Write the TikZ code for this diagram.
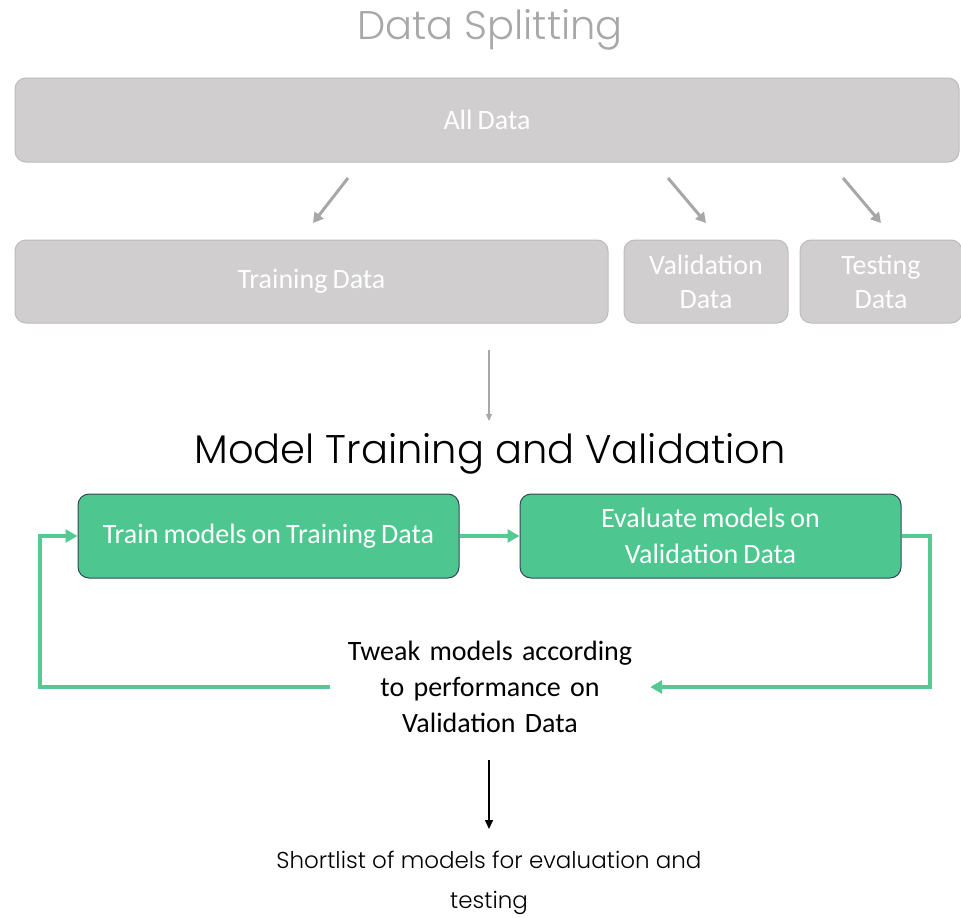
\documentclass[tikz,border=0pt]{standalone}
\usepackage{fontspec}
\setmainfont{Carlito}[WordSpace=0.8]
\newfontfamily\titlefont{Poppins}[UprightFont=*-Light]
\usetikzlibrary{arrows.meta,calc}
\definecolor{boxgray}{HTML}{D0CECF}
\definecolor{boxgrayline}{HTML}{BDBBBC}
\definecolor{arrgray}{HTML}{A8A6A7}
\definecolor{titlegray}{HTML}{A9A7A8}
\definecolor{boxgreen}{HTML}{4EC68F}
\definecolor{boxline}{HTML}{34465A}
\definecolor{loopgreen}{HTML}{55C992}
\tikzset{
  graybox/.style={draw=boxgrayline, line width=1pt, fill=boxgray, rounded corners=11pt,
    text=white, font=\fontsize{28}{34}\selectfont, align=center, inner sep=0pt},
  greenbox/.style={draw=boxline, line width=1pt, fill=boxgreen, rounded corners=11pt,
    text=white, font=\fontsize{28}{36}\selectfont, align=center, inner sep=0pt,
    minimum width=381pt, minimum height=84pt},
  grayarrow/.style={draw=arrgray, line width=3pt, -{Triangle[width=11pt,length=10pt]}},
  thinarrow/.style={draw=arrgray, line width=1.2pt, -{Triangle[width=6pt,length=7pt]}},
  looparrow/.style={draw=loopgreen, line width=4pt, -{Triangle[width=13pt,length=12pt]}},
  bigtitle/.style={font=\titlefont\fontsize{40}{46}\selectfont, inner sep=0pt},
  plaintext/.style={font=\fontsize{28}{36}\selectfont, align=center},
}
\begin{document}
\begin{tikzpicture}[x=1pt,y=-1pt]
\useasboundingbox (0,0) rectangle (961,918);

\node[bigtitle, text=titlegray] (t1) at (490,30) {Data Splitting};

\node[graybox, minimum width=944pt, minimum height=84pt] (all) at (487,120) {All Data};
\node[graybox, minimum width=593pt, minimum height=83pt] (train) at (311.5,281.5) {Training Data};
\node[graybox, minimum width=164pt, minimum height=83pt] (val) at (706,281.5) {Validation\\Data};
\node[graybox, minimum width=162pt, minimum height=83pt] (test) at (881,281.5) {Testing\\Data};

\coordinate (a1s) at (348,178); \coordinate (a1e) at (313,223);
\coordinate (a2s) at (668,178); \coordinate (a2e) at (706,223);
\coordinate (a3s) at (843,178); \coordinate (a3e) at (881,223);
\draw[grayarrow] (a1s) -- (a1e);
\draw[grayarrow] (a2s) -- (a2e);
\draw[grayarrow] (a3s) -- (a3e);

\coordinate (d1s) at (489,350); \coordinate (d1e) at (489,421);
\draw[thinarrow] (d1s) -- (d1e);

\node[bigtitle, text=black] (t2) at (490,454) {Model Training and Validation};

\node[greenbox] (trm) at (268.5,536) {Train models on Training Data};
\node[greenbox] (evm) at (710.5,536) {Evaluate models on\\Validation Data};
\draw[looparrow] (trm) -- (evm);

\node[plaintext, text width=296pt, inner sep=12pt] (tweak) at (490,687)
  {Tweak models according\\to performance on\\Validation Data};

\coordinate (rc) at (930,536);
\coordinate (lc) at (40,536);
\draw[looparrow] (evm.east) -- (rc) |- (tweak.east);
\draw[looparrow] (tweak.west) -| (lc) -- (trm.west);

\coordinate (d2s) at (489,760); \coordinate (d2e) at (489,829);
\draw[line width=1.5pt, -{Triangle[width=8pt,length=9pt]}] (d2s) -- (d2e);

\node[font=\titlefont\fontsize{23}{40}\selectfont, align=center, inner sep=0pt] (short) at (489,883)
  {Shortlist of models for evaluation and\\testing};
\end{tikzpicture}
\end{document}
